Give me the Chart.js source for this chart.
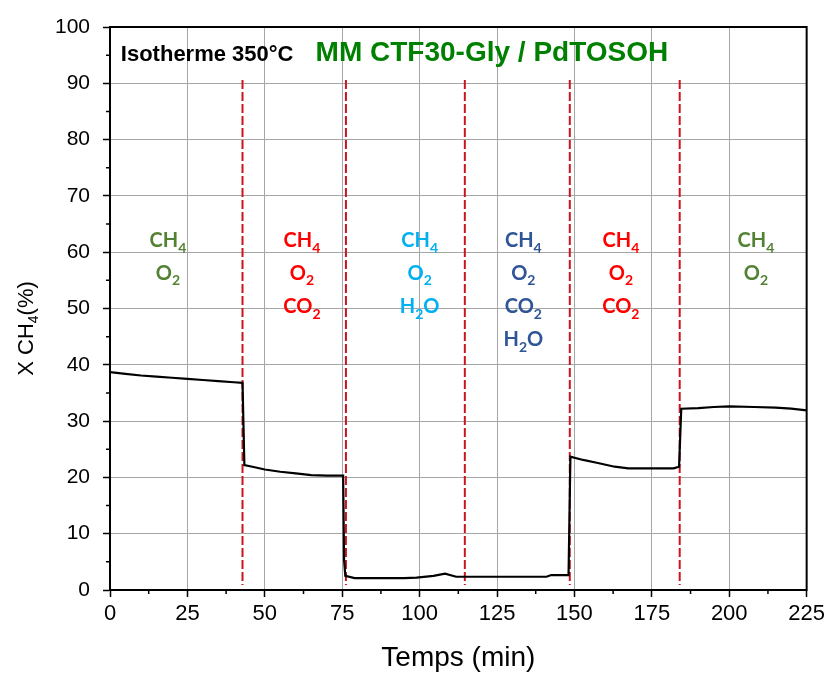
<!DOCTYPE html>
<html>
<head>
<meta charset="utf-8">
<script src="https://cdn.jsdelivr.net/npm/chart.js@4.4.1/dist/chart.umd.min.js"></script>
<style>
  html, body { margin: 0; padding: 0; background: #fff; }
  #wrap { width: 829px; height: 675px; }
</style>
</head>
<body>
<div id="wrap"><canvas id="myChart"></canvas></div>
<script>
// conversion CH4 (%) en fonction du temps (min), isotherme 350°C
const time = [0, 5, 10, 15, 20, 25, 30, 35, 40, 42.8,
    43.4, 46, 50, 55, 60, 65, 70, 75.3,
    75.6, 76.0, 79, 85, 90, 95, 99, 104.5, 108.2, 111.8, 120, 130, 141, 142.5, 148.1,
    148.7, 152.8, 157.2, 163, 167.4, 175, 182, 183.8,
    184.5, 190, 195, 200, 208, 215, 220, 225];
const conversion = [38.7, 38.4, 38.1, 37.9, 37.7, 37.5, 37.3, 37.1, 36.9, 36.8,
    22.2, 21.9, 21.4, 21.0, 20.7, 20.4, 20.3, 20.3,
    5.3, 2.5, 2.1, 2.1, 2.1, 2.1, 2.2, 2.5, 2.9, 2.35, 2.35, 2.35, 2.35, 2.65, 2.65,
    23.7, 23.1, 22.6, 21.9, 21.6, 21.6, 21.6, 21.9,
    32.2, 32.3, 32.5, 32.6, 32.5, 32.4, 32.2, 31.9];

// changements de mélange gazeux
const switchTimes = [42.8, 76.2, 114.6, 148.5, 184.0];
const switchTop = 90.6;
const switchBottom = 0.9;

// étiquettes des phases
const phaseCenters = [18.7, 62, 100, 133.5, 165, 208.6];
const phaseGases = [
    ['CH4', 'O2'],
    ['CH4', 'O2', 'CO2'],
    ['CH4', 'O2', 'H2O'],
    ['CH4', 'O2', 'CO2', 'H2O'],
    ['CH4', 'O2', 'CO2'],
    ['CH4', 'O2']
];
const phaseColors = ['#548235', '#FF0000', '#00B0F0', '#2F5597', '#FF0000', '#548235'];
const gasRows = [60.9, 55.1, 49.2, 43.3];

const xTicksMax = 225;
const yTicksMax = 100;

const datasets = [{
    label: 'X CH4',
    data: time.map((t, i) => ({ x: t, y: conversion[i] })),
    borderColor: '#000',
    borderWidth: 2.2,
    pointRadius: 0,
    tension: 0
}];
switchTimes.forEach(t => {
    datasets.push({
        label: 'switch',
        data: [{ x: t, y: switchTop }, { x: t, y: switchBottom }],
        borderColor: '#C8161D',
        borderWidth: 2,
        borderDash: [9, 3],
        pointRadius: 0
    });
});

// texte avec indices (chiffres en indice)
function drawChem(ctx, text, cx, y, size, color) {
    const parts = text.match(/[^0-9]+|[0-9]+/g);
    const big = 'bold ' + size + 'px Lato, "Liberation Sans", sans-serif';
    const small = 'bold ' + Math.round(size * 0.68) + 'px Lato, "Liberation Sans", sans-serif';
    let w = 0;
    parts.forEach(p => {
        ctx.font = /[0-9]/.test(p) ? small : big;
        w += ctx.measureText(p).width;
    });
    let x = cx - w / 2;
    ctx.fillStyle = color;
    ctx.textAlign = 'left';
    ctx.textBaseline = 'alphabetic';
    parts.forEach(p => {
        const sub = /[0-9]/.test(p);
        ctx.font = sub ? small : big;
        ctx.fillText(p, x, y + (sub ? size * 0.28 : 0));
        x += ctx.measureText(p).width;
    });
}

const decor = {
    id: 'decor',
    afterDraw(chart) {
        const ctx = chart.ctx;
        const a = chart.chartArea;
        const xs = chart.scales.x, ys = chart.scales.y;
        ctx.save();

        // cadre
        ctx.strokeStyle = '#000';
        ctx.lineWidth = 2;
        ctx.strokeRect(a.left, a.top, a.right - a.left, a.bottom - a.top);

        // petites graduations
        ctx.lineWidth = 1.5;
        ctx.beginPath();
        for (let v = 5; v < yTicksMax; v += 10) {
            const p = ys.getPixelForValue(v);
            ctx.moveTo(a.left - 4, p); ctx.lineTo(a.left, p);
        }
        for (let v = 12.5; v < xTicksMax; v += 25) {
            const p = xs.getPixelForValue(v);
            ctx.moveTo(p, a.bottom); ctx.lineTo(p, a.bottom + 4);
        }
        ctx.stroke();

        // titre axe y : X CH4(%)
        ctx.save();
        ctx.translate(33, (a.top + a.bottom) / 2 + 20);
        ctx.rotate(-Math.PI / 2);
        const f1 = '22px "Liberation Sans", Arial, sans-serif';
        const f2 = '14px "Liberation Sans", Arial, sans-serif';
        ctx.font = f1; const w1 = ctx.measureText('X CH').width; const w3 = ctx.measureText('(%)').width;
        ctx.font = f2; const w2 = ctx.measureText('4').width;
        let x0 = -(w1 + w2 + w3) / 2;
        ctx.fillStyle = '#000';
        ctx.textAlign = 'left';
        ctx.font = f1; ctx.fillText('X CH', x0, 0); x0 += w1;
        ctx.font = f2; ctx.fillText('4', x0, 5); x0 += w2;
        ctx.font = f1; ctx.fillText('(%)', x0, 0);
        ctx.restore();

        // en-tête
        ctx.textAlign = 'left';
        ctx.textBaseline = 'alphabetic';
        ctx.fillStyle = '#000';
        ctx.font = 'bold 22px "Liberation Sans", Arial, sans-serif';
        ctx.fillText('Isotherme 350°C', xs.getPixelForValue(3.5), ys.getPixelForValue(94.0));
        ctx.fillStyle = '#008000';
        ctx.font = 'bold 28px "Liberation Sans", Arial, sans-serif';
        ctx.fillText('MM CTF30-Gly / PdTOSOH', xs.getPixelForValue(66.4), ys.getPixelForValue(94.0));

        // phases
        phaseCenters.forEach((c, i) => {
            phaseGases[i].forEach((g, j) => {
                drawChem(ctx, g, xs.getPixelForValue(c), ys.getPixelForValue(gasRows[j]), 20, phaseColors[i]);
            });
        });
        ctx.restore();
    }
};

const tickFont = { family: '"Liberation Sans", Arial, sans-serif' };

new Chart(document.getElementById('myChart'), {
    type: 'line',
    data: { datasets: datasets },
    options: {
        responsive: true,
        maintainAspectRatio: false,
        animation: false,
        layout: { padding: { left: 0, top: 27, right: 21, bottom: 0 } },
        plugins: { legend: { display: false }, tooltip: { enabled: false } },
        scales: {
            x: {
                type: 'linear',
                min: 0,
                max: xTicksMax,
                ticks: { stepSize: 25, color: '#000', font: { ...tickFont, size: 22 }, padding: 4, maxRotation: 0 },
                grid: { color: '#A6A6A6', lineWidth: 1, tickColor: '#000', tickLength: 7, tickWidth: 1.5 },
                border: { color: '#000', width: 2 },
                title: { display: true, text: 'Temps (min)', color: '#000', font: { ...tickFont, size: 28 }, padding: { top: 0, bottom: 0 } },
                afterFit(scale) { scale.height = 85; }
            },
            y: {
                min: 0,
                max: yTicksMax,
                ticks: { stepSize: 10, color: '#000', font: { ...tickFont, size: 21 }, padding: 13 },
                grid: { color: '#A6A6A6', lineWidth: 1, tickColor: '#000', tickLength: 7, tickWidth: 1.5 },
                border: { color: '#000', width: 2 },
                afterFit(scale) { scale.width = 110; }
            }
        }
    },
    plugins: [decor]
});
</script>
</body>
</html>
